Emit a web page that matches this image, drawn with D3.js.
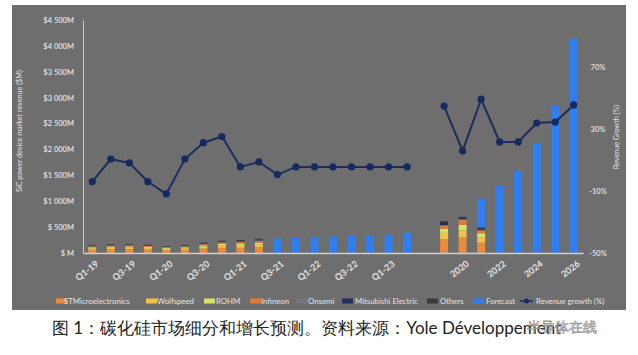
<!DOCTYPE html>
<html><head><meta charset="utf-8">
<script src="https://cdn.jsdelivr.net/npm/d3@7/dist/d3.min.js"></script>
<style>
html,body{margin:0;padding:0;background:#fff;}
svg{display:block;}
text{font-family:Lato,"Open Sans",sans-serif;}
</style></head>
<body>
<svg id="chart" width="638" height="355"></svg>
<script>
// ---------- DATA ----------
const quarterCats = ["Q1-19","Q2-19","Q3-19","Q4-19","Q1-20","Q2-20","Q3-20","Q4-20","Q1-21","Q2-21",
                     "Q3-21","Q4-21","Q1-22","Q2-22","Q3-22","Q4-22","Q1-23","Q2-23"];
const yearCats = ["2019","2020","2021","2022","2023","2024","2025","2026"];
const gapCat = "gap";
const shownTicks = ["Q1-19","Q3-19","Q1-20","Q3-20","Q1-21","Q3-21","Q1-22","Q3-22","Q1-23","2020","2022","2024","2026"];

// Actual revenue by supplier ($M) – quarters Q1-19..Q2-21, then years 2019, 2020, 2021 (H1)
const stackedCats = ["Q1-19","Q2-19","Q3-19","Q4-19","Q1-20","Q2-20","Q3-20","Q4-20","Q1-21","Q2-21","2019","2020","2021"];
const stMicro    = [62, 70, 72, 66, 56, 62, 84, 100, 100, 110, 270, 300, 200];
const wolfspeed  = [28, 32, 33, 30, 25, 28, 36, 44, 48, 52, 120, 135, 100];
const rohm       = [20, 22, 23, 21, 18, 20, 26, 31, 34, 37, 80, 110, 80];
const infineon   = [18, 20, 21, 19, 16, 18, 24, 29, 32, 35, 60, 95, 55];
const onsemi     = [4, 4, 5, 4, 3, 4, 5, 6, 7, 8, 10, 12, 12];
const mitsubishi = [9, 10, 10, 10, 8, 9, 12, 14, 15, 17, 40, 30, 25];
const others     = [8, 10, 10, 10, 9, 8, 12, 14, 15, 17, 38, 19, 25];

// Forecast revenue ($M)
const forecastCats = ["Q3-21","Q4-21","Q1-22","Q2-22","Q3-22","Q4-22","Q1-23","Q2-23","2021","2022","2023","2024","2025","2026"];
const forecast     = [284, 290, 303, 315, 328, 341, 354, 392, 559, 1294, 1590, 2118, 2839, 4146];

// Revenue growth (%)
const quarterGrowth = [-4, 10.5, 8, -4, -12, 10.5, 21, 25, 5.4, 8.6, 0.5, 5.4, 5.4, 5.4, 5.4, 5.4, 5.4, 5.4];
const yearGrowth    = [44.6, 15.7, 49, 21.5, 21.5, 33.7, 34.3, 45.3];

const leftTicks = [0, 500, 1000, 1500, 2000, 2500, 3000, 3500, 4000, 4500];
const leftTickLabels = ["$ M","$ 500M","$1 000M","$1 500M","$2 000M","$2 500M","$3 000M","$3 500M","$4 000M","$4 500M"];
const rightTicks = [-50, -10, 30, 70];
const rightTickLabels = ["-50%","-10%","30%","70%"];

const seriesNames = ["STMicroelectronics","Wolfspeed","ROHM","Infineon","Onsemi","Mitsubishi Electric","Others","Forecast"];
const seriesColors = ["#ea8a3c","#f3c443","#d7e267","#e27833","#767676","#1f2f5e","#3b3b3b","#2f7ff2"];
const lineColor = "#1a2d5e";

// ---------- BUILD TABLE ----------
const categories = [...quarterCats, gapCat, ...yearCats];
const companyArrays = [stMicro, wolfspeed, rohm, infineon, onsemi, mitsubishi, others];
const keys = seriesNames;
const table = categories.map(c => {
  const row = {cat: c};
  const si = stackedCats.indexOf(c);
  companyArrays.forEach((arr, k) => row[keys[k]] = si >= 0 ? arr[si] : 0);
  const fi = forecastCats.indexOf(c);
  row["Forecast"] = fi >= 0 ? forecast[fi] : 0;
  return row;
});

// ---------- LAYOUT ----------
const svg = d3.select("#chart");
svg.append("rect").attr("x", 12).attr("y", 5).attr("width", 614).attr("height", 305).attr("fill", "#6e6e6e");

const x = d3.scaleBand().domain(categories).range([83, 583]).paddingInner(0.57).paddingOuter(0.285);
const y = d3.scaleLinear().domain([0, 4500]).range([253, 20]);
const y2 = d3.scaleLinear().domain([-50, 100]).range([253, 20]);

const textCol = "#e4e4e4";

// bars
const stacked = d3.stack().keys(keys)(table);
stacked.forEach((s, k) => {
  svg.append("g").attr("fill", seriesColors[k])
    .selectAll("rect")
    .data(s.filter(d => d[1] - d[0] > 0))
    .join("rect")
    .attr("x", d => x(d.data.cat))
    .attr("width", x.bandwidth())
    .attr("y", d => y(d[1]))
    .attr("height", d => y(d[0]) - y(d[1]));
});

// left axis
const gl = svg.append("g").attr("transform", "translate(83,0)")
  .call(d3.axisLeft(y).tickValues(leftTicks).tickFormat((d, i) => leftTickLabels[i]).tickSize(0).tickPadding(9));
gl.select(".domain").attr("stroke", "#c9c9c9").attr("stroke-width", 1);
gl.selectAll("text").attr("fill", textCol).attr("font-size", 7.5).attr("font-weight", 600).attr("font-family", "Lato");

// bottom axis
const gb = svg.append("g").attr("transform", "translate(0,253)")
  .call(d3.axisBottom(x).tickValues(shownTicks).tickSize(0).tickSizeOuter(0));
gb.select(".domain").attr("stroke", "#cfcfcf").attr("stroke-width", 1.6);
gb.selectAll("text")
  .attr("fill", textCol).attr("font-size", 9).attr("font-weight", 700).attr("font-family", "Lato")
  .attr("text-anchor", "end")
  .attr("dy", 0).attr("y", 0)
  .attr("transform", d => `translate(${x.bandwidth() / 2 + 3},12) rotate(-38)`);

// right axis
const gr = svg.append("g").attr("transform", "translate(598,0)")
  .call(d3.axisRight(y2).tickValues(rightTicks).tickFormat((d) => rightTickLabels[rightTicks.indexOf(d)]).tickSize(0).tickPadding(0));
gr.select(".domain").remove();
gr.selectAll("text").attr("fill", textCol).attr("font-size", 7.5).attr("font-weight", 600).attr("text-anchor", "middle").attr("font-family", "Lato");

// axis titles
svg.append("text").attr("transform", "translate(22,131) rotate(-90)").attr("text-anchor", "middle")
  .attr("fill", textCol).attr("font-size", 7.2).text("SiC power device market revenue ($M)");
svg.append("text").attr("transform", "translate(619,137) rotate(-90)").attr("text-anchor", "middle")
  .attr("fill", textCol).attr("font-size", 7.2).text("Revenue Growth (%)");

// growth lines
const line = d3.line().x(d => x(d.cat) + x.bandwidth() / 2).y(d => y2(d.v));
const qPts = quarterCats.map((c, i) => ({cat: c, v: quarterGrowth[i]}));
const yPts = yearCats.map((c, i) => ({cat: c, v: yearGrowth[i]}));
[qPts, yPts].forEach(pts => {
  svg.append("path").datum(pts).attr("d", line).attr("fill", "none").attr("stroke", lineColor).attr("stroke-width", 2);
  svg.append("g").selectAll("circle").data(pts).join("circle")
    .attr("cx", d => x(d.cat) + x.bandwidth() / 2).attr("cy", d => y2(d.v)).attr("r", 3.6)
    .attr("fill", "#152a60");
});

// legend
const legendItems = [
  {name: "STMicroelectronics", color: seriesColors[0], sx: 56, tx: 64},
  {name: "Wolfspeed", color: seriesColors[1], sx: 146, tx: 157},
  {name: "ROHM", color: seriesColors[2], sx: 204, tx: 216},
  {name: "Infineon", color: seriesColors[3], sx: 250, tx: 261},
  {name: "Onsemi", color: seriesColors[4], sx: 296, tx: 308},
  {name: "Mitsubishi Electric", color: seriesColors[5], sx: 342, tx: 355},
  {name: "Others", color: seriesColors[6], sx: 427, tx: 440},
  {name: "Forecast", color: seriesColors[7], sx: 473, tx: 486}
];
const lg = svg.append("g");
legendItems.forEach(it => {
  lg.append("rect").attr("x", it.sx).attr("y", 298.5).attr("width", 11).attr("height", 5).attr("fill", it.color);
  lg.append("text").attr("x", it.tx).attr("y", 303.5).attr("fill", textCol).attr("font-size", 7.8).text(it.name);
});
lg.append("line").attr("x1", 520).attr("x2", 533).attr("y1", 301).attr("y2", 301).attr("stroke", lineColor).attr("stroke-width", 1.5);
lg.append("circle").attr("cx", 526.5).attr("cy", 301).attr("r", 2.5).attr("fill", "#152a60");
lg.append("text").attr("x", 536).attr("y", 303.5).attr("fill", textCol).attr("font-size", 7.8).text("Revenue growth (%)");

// caption
svg.append("text").attr("x", 52).attr("y", 334).attr("fill", "#222")
  .attr("font-family", "'Noto Sans CJK SC','Noto Sans',sans-serif").attr("font-size", 17)
  .text("图 1：碳化硅市场细分和增长预测。资料来源：Yole Développement");
svg.append("text").attr("x", 527).attr("y", 332).attr("fill", "#f4f4f4").attr("stroke", "#8a8a8a").attr("stroke-width", 0.7)
  .attr("font-family", "'Noto Sans CJK SC',sans-serif").attr("font-size", 14).attr("opacity", 0.85)
  .text("半导体在线");
</script>
</body></html>
